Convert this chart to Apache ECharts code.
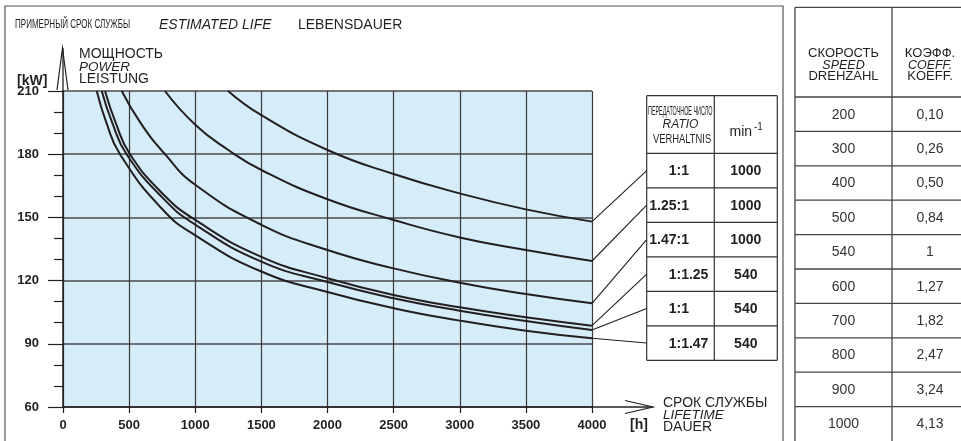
<!DOCTYPE html>
<html><head><meta charset="utf-8">
<script src="https://cdn.jsdelivr.net/npm/echarts@6/dist/echarts.min.js"></script>
<style>html,body{margin:0;padding:0;background:#fff}#c{width:961px;height:441px}</style>
</head><body><div id="c"></div>
<script>
// ---- data ----
const hoursTicks = [0, 500, 1000, 1500, 2000, 2500, 3000, 3500, 4000];
const powerTicks = [60, 90, 120, 150, 180, 210];

const curve1T = [1248, 1500, 2000, 2500, 3000, 3500, 4000];
const curve1P = [210, 198.5, 182, 170.6, 161.4, 153.8, 148];
const curve2T = [771, 1000, 1250, 1500, 2000, 2500, 3000, 3500, 4000];
const curve2P = [210, 194, 182, 172.5, 158.6, 148.8, 140.5, 134.5, 129.3];
const curve3T = [444, 590, 771, 1000, 1500, 2000, 2500, 3000, 3500, 4000];
const curve3P = [210, 194.5, 180, 165.5, 146.5, 134.5, 125.8, 119, 113.6, 109.2];
const curve4T = [318, 398, 507, 750, 1000, 1500, 2000, 2500, 3000, 3500, 4000];
const curve4P = [210, 195, 180, 161.5, 148.8, 131.3, 121.1, 113.2, 107.3, 102.6, 98.6];
const curve5T = [293, 372, 481, 750, 1000, 1500, 2000, 2500, 3000, 3500, 4000];
const curve5P = [210, 195, 180, 159.5, 146.6, 129.0, 119.3, 111.6, 105.7, 100.8, 96.5];
const curve6T = [255, 328, 431, 750, 1000, 1500, 2000, 2500, 3000, 3500, 4000];
const curve6P = [210, 195, 180, 154, 141.5, 124.3, 114.6, 106.9, 101.0, 96.2, 92.6];

const ratioLeft  = ['1', '1.25', '1.47', '1', '1', '1'];
const ratioRight = ['1', '1', '1', '1.25', '1', '1.47'];
const ratioRpm   = ['1000', '1000', '1000', '540', '540', '540'];

const speedVals = ['200', '300', '400', '500', '540', '600', '700', '800', '900', '1000'];
const coeffVals = ['0,10', '0,26', '0,50', '0,84', '1', '1,27', '1,82', '2,47', '3,24', '4,13'];

const curvesT = [curve1T, curve2T, curve3T, curve4T, curve5T, curve6T];
const curvesP = [curve1P, curve2P, curve3P, curve4P, curve5P, curve6P];

// ---- chart ----
const FONT = '"Liberation Sans", Arial, Helvetica, sans-serif';
const INK = '#231f20';
const chart = echarts.init(document.getElementById('c'), null, {renderer: 'canvas'});

const series = curvesT.map((ts, i) => ({
  type: 'line',
  data: ts.map((t, j) => [t, curvesP[i][j]]),
  smooth: 0.5,
  showSymbol: false,
  symbol: 'none',
  clip: true,
  lineStyle: {color: INK, width: 2},
  z: 5,
  silent: true
}));

chart.setOption({
  animation: false,
  backgroundColor: '#ffffff',
  grid: {left: 63, top: 91, right: 369, bottom: 34, show: true, backgroundColor: '#d5ecf9', borderWidth: 0},
  xAxis: {
    type: 'value', min: hoursTicks[0], max: hoursTicks[hoursTicks.length - 1], interval: 500,
    axisLine: {show: true, lineStyle: {color: INK, width: 1.5}},
    axisTick: {show: true, length: 6, lineStyle: {color: INK, width: 1.2}},
    splitLine: {show: true, lineStyle: {color: '#3a3a3a', width: 1.2}},
    axisLabel: {color: INK, fontFamily: FONT, fontWeight: 'bold', fontSize: 13, margin: 12,
      formatter: v => String(v)}
  },
  yAxis: {
    type: 'value', min: powerTicks[0], max: powerTicks[powerTicks.length - 1], interval: 30,
    axisLine: {show: true, lineStyle: {color: INK, width: 1.5}},
    axisTick: {show: true, length: 15, lineStyle: {color: INK, width: 1.2}},
    minorTick: {show: true, splitNumber: 3, length: 9, lineStyle: {color: INK, width: 1.2}},
    splitLine: {show: true, lineStyle: {color: '#4a4a4a', width: 1.5}},
    axisLabel: {color: INK, fontFamily: FONT, fontWeight: 'bold', fontSize: 13, margin: 24,
      padding: [4, 0, 0, 0], formatter: v => String(v)}
  },
  series: series
});

function txt(x, y, text, o) {
  o = o || {};
  return {
    type: 'text', x: x, y: y, scaleX: o.scaleX || 1, z: 20, silent: true,
    style: {
      text: text, x: 0, y: 0,
      fill: o.fill || INK,
      font: (o.style || 'normal') + ' ' + (o.weight || 'normal') + ' ' + (o.size || 13) + 'px ' + FONT,
      align: o.align || 'left', verticalAlign: o.va || 'middle',
      textAlign: o.align || 'left', textVerticalAlign: o.va || 'middle'
    }
  };
}
function line(x1, y1, x2, y2, c, w) {
  return {type: 'line', z: 15, silent: true, shape: {x1: x1, y1: y1, x2: x2, y2: y2},
    style: {stroke: c || INK, lineWidth: w || 1}};
}
function poly(pts, c, w) {
  return {type: 'polyline', z: 15, silent: true, shape: {points: pts},
    style: {stroke: c || INK, lineWidth: w || 1.2, fill: null}};
}

const g = [];
// outer frame of left panel
g.push({type: 'rect', z: 1, silent: true, shape: {x: 5, y: 6, width: 778, height: 450},
  style: {stroke: '#555', lineWidth: 1.2, fill: null}});

// titles
g.push(txt(15, 25, 'ПРИМЕРНЫЙ СРОК СЛУЖБЫ', {size: 12, scaleX: 0.67}));
g.push(txt(159, 25, 'ESTIMATED LIFE', {size: 14, style: 'italic'}));
g.push(txt(298, 25, 'LEBENSDAUER', {size: 14}));

// axis arrows
const o0 = chart.convertToPixel({gridIndex: 0}, [0, 210]);
const o1 = chart.convertToPixel({gridIndex: 0}, [4000, 60]);
const axX = o0[0], plotTop = o0[1], plotRight = o1[0], plotBottom = o1[1];
g.push(line(axX, plotTop, axX, 48, INK, 1.3));
g.push(poly([[axX - 6, 90], [axX - 0.5, 48], [axX + 5, 90]], INK, 1.2));
g.push(line(plotRight, plotBottom, 653, plotBottom, INK, 1.3));
g.push(poly([[625, plotBottom - 6.5], [653, plotBottom], [625, plotBottom + 6.5]], INK, 1.2));

// y axis title
g.push(txt(79, 54.5, 'МОЩНОСТЬ', {size: 14}));
g.push(txt(79, 67, 'POWER', {size: 13.5, style: 'italic'}));
g.push(txt(79, 79, 'LEISTUNG', {size: 14}));
g.push(txt(17, 81, '[kW]', {size: 14, weight: 'bold'}));

// x axis title
g.push(txt(630, 425, '[h]', {size: 14, weight: 'bold'}));
g.push(txt(663, 403, 'СРОК СЛУЖБЫ', {size: 14}));
g.push(txt(663, 415, 'LIFETIME', {size: 13.5, style: 'italic'}));
g.push(txt(663, 427, 'DAUER', {size: 14}));

// ratio table
const tL = 646.7, tM = 714.3, tR = 777.3, tTop = 95.7, tHead = 153.3, rowH = 34.5;
const tBot = tHead + rowH * ratioRpm.length;
g.push(line(tL, tTop, tR, tTop, '#333', 1.2));
g.push(line(tL, tTop, tL, tBot, '#333', 1.2));
g.push(line(tM, tTop, tM, tBot, '#333', 1.2));
g.push(line(tR, tTop, tR, tBot, '#333', 1.2));
for (let i = 0; i <= ratioRpm.length; i++) {
  const y = tHead + rowH * i;
  g.push(line(tL, y, tR, y, '#333', 1.2));
}
g.push(txt(648, 111.5, 'ПЕРЕДАТОЧНОЕ ЧИСЛО', {size: 12, align: 'left', scaleX: 0.45}));
g.push(txt(680.5, 125, 'RATIO', {size: 12, style: 'italic', align: 'center'}));
g.push(txt(653, 139.5, 'VERHALTNIS', {size: 12.5, align: 'left', scaleX: 0.75}));
g.push(txt(729.5, 132, 'min', {size: 14}));
g.push(txt(754, 127, '-1', {size: 10}));
const colonX = 676.5;
for (let i = 0; i < ratioRpm.length; i++) {
  const cy = tHead + rowH * (i + 0.5) + 1;
  g.push(txt(colonX, cy, ratioLeft[i], {size: 14, weight: 'bold', align: 'right'}));
  g.push(txt(colonX, cy, ':' + ratioRight[i], {size: 14, weight: 'bold', align: 'left'}));
  g.push(txt((tM + tR) / 2, cy, ratioRpm[i], {size: 14, weight: 'bold', align: 'center'}));
  // leader line from curve end to row
  const ts = curvesT[i], ps = curvesP[i];
  const p = chart.convertToPixel({gridIndex: 0}, [ts[ts.length - 1], ps[ps.length - 1]]);
  g.push(line(p[0], p[1], tL, cy - 1, INK, 1.1));
}

// speed / coefficient table (right)
const sL = 795, sM = 892, sTop = 7.3, sHead = 97, sRow = 34.4;
g.push(line(sL, sTop, 961, sTop, '#444', 1.3));
g.push(line(sL, sTop, sL, 441, '#444', 1.3));
g.push(line(sM, sTop, sM, 441, '#444', 1.3));
for (let i = 0; i < speedVals.length; i++) {
  const y = sHead + sRow * i;
  g.push(line(sL, y, 961, y, '#444', 1.3));
  const cy = y + sRow / 2 + 0.5;
  g.push(txt((sL + sM) / 2, cy, speedVals[i], {size: 14, align: 'center', fill: '#333'}));
  g.push(txt(930, cy, coeffVals[i], {size: 14, align: 'center', fill: '#333'}));
}
g.push(txt(843.5, 53.5, 'СКОРОСТЬ', {size: 13, align: 'center'}));
g.push(txt(843.5, 65.5, 'SPEED', {size: 12.5, style: 'italic', align: 'center'}));
g.push(txt(843.5, 76.5, 'DREHZAHL', {size: 13, align: 'center'}));
g.push(txt(930, 53.5, 'КОЭФФ.', {size: 13, align: 'center'}));
g.push(txt(930, 65.5, 'COEFF.', {size: 12.5, style: 'italic', align: 'center'}));
g.push(txt(930, 76.5, 'KOEFF.', {size: 13, align: 'center'}));

chart.setOption({graphic: {elements: g}});
</script>
</body></html>
